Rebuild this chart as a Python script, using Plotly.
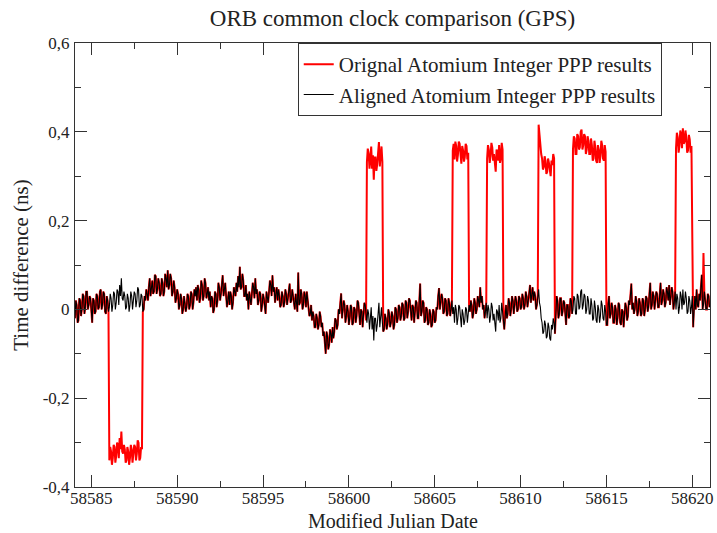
import numpy as np
import plotly.graph_objects as go

# aligned series, every 0.05 day (one row = one day)
t_start = 58584.05
t_step = 0.05
aligned_ns = [
    -0.02, 0.02, 0.01, -0.03, -0.025, 0.025, 0.02, -0.015, 0.0, 0.035, 0.03, -0.01, 0.005, 0.04, 0.04, 0.0, 0.01, 0.03, 0.025, -0.01,
    -0.03, 0.025, 0.02, -0.01, -0.005, 0.035, 0.03, 0.0, 0.005, 0.04, 0.045, 0.0, 0.01, 0.04, 0.035, -0.005, -0.01, 0.03, 0.02, -0.005,
    0.005, 0.035, 0.025, -0.005, 0.01, 0.04, 0.035, 0.0, 0.015, 0.045, 0.04, 0.01, 0.055, 0.03, 0.07, 0.025, 0.02, 0.04, 0.03, 0.0,
    0.005, 0.035, 0.025, -0.005, 0.01, 0.04, 0.03, 0.0, 0.015, 0.04, 0.035, 0.005, 0.02, 0.05, 0.045, 0.005, 0.01, 0.035, 0.03, -0.005,
    0.0, 0.03, 0.02, 0.045, 0.035, 0.02, 0.05, 0.07, 0.03, 0.06, 0.065, 0.035, 0.04, 0.078, 0.075, 0.035, 0.045, 0.07, 0.06, 0.03,
    0.035, 0.07, 0.06, 0.03, 0.04, 0.08, 0.07, 0.05, 0.088, 0.045, 0.055, 0.08, 0.07, 0.03, 0.04, 0.065, 0.05, 0.015, 0.025, 0.045,
    0.035, 0.0, 0.01, 0.035, 0.025, -0.01, 0.0, 0.03, 0.015, -0.005, 0.005, 0.035, 0.03, 0.0, 0.01, 0.04, 0.035, 0.0, 0.015, 0.045,
    0.03, 0.05, 0.02, 0.055, 0.045, 0.015, 0.025, 0.065, 0.055, 0.02, 0.03, 0.07, 0.06, 0.025, 0.035, 0.05, 0.02, 0.04, 0.005, 0.03,
    0.025, -0.008, 0.0, 0.04, 0.035, 0.005, 0.02, 0.06, 0.05, 0.02, 0.035, 0.065, 0.077, 0.03, 0.045, 0.06, 0.03, 0.005, 0.02, 0.04,
    0.01, 0.04, 0.03, 0.0, 0.015, 0.05, 0.04, 0.03, 0.06, 0.04, 0.075, 0.05, 0.096, 0.045, 0.05, 0.08, 0.065, 0.03, 0.03, 0.055,
    0.02, 0.035, 0.0, 0.04, 0.025, 0.01, 0.035, 0.06, 0.05, 0.025, 0.07, 0.035, 0.045, 0.01, 0.02, 0.04, 0.035, -0.005, 0.01, 0.035,
    0.025, 0.01, -0.01, 0.04, 0.03, 0.015, 0.04, 0.065, 0.055, 0.03, 0.077, 0.04, 0.05, 0.015, 0.035, 0.05, 0.02, 0.045, 0.03, 0.005,
    0.01, 0.04, 0.03, 0.005, 0.015, 0.045, 0.035, 0.01, 0.025, 0.05, 0.058, 0.015, 0.02, 0.045, 0.03, 0.005, 0.0, 0.035, 0.02, -0.005,
    0.083, 0.01, 0.015, 0.045, 0.035, 0.0, 0.01, 0.04, 0.03, 0.005, 0.04, 0.02, 0.015, -0.015, -0.01, 0.01, -0.025, -0.005, -0.015, -0.04,
    -0.04, -0.01, -0.02, -0.045, -0.035, -0.005, -0.015, -0.04, -0.03, -0.06, -0.05, -0.08, -0.1, -0.05, -0.06, -0.09, -0.08, -0.045, -0.055, -0.075,
    -0.04, -0.065, -0.05, -0.02, -0.025, -0.045, -0.035, 0.0, -0.01, 0.015, 0.036, -0.02, -0.005, 0.02, 0.01, -0.03, -0.015, 0.01, -0.005, -0.035,
    -0.02, 0.01, 0.005, -0.035, -0.03, 0.005, 0.0, -0.03, -0.015, 0.02, 0.015, -0.02, -0.035, 0.0, -0.005, -0.04, -0.02, 0.015, 0.01, -0.025,
    -0.03, 0.0, -0.01, -0.045, -0.025, 0.005, -0.045, -0.015, -0.07, -0.02, -0.02, -0.05, -0.035, 0.0, 0.015, -0.04, -0.02, 0.005, -0.03, -0.05,
    -0.045, -0.01, -0.02, -0.045, -0.035, 0.0, -0.01, -0.04, -0.03, -0.005, -0.015, -0.045, -0.035, 0.005, 0.0, -0.03, -0.02, 0.01, 0.005, -0.025,
    -0.015, 0.015, 0.01, -0.025, -0.02, 0.02, 0.015, -0.02, -0.005, 0.025, 0.02, -0.015, -0.025, 0.01, 0.005, -0.03, -0.01, 0.02, 0.015, -0.02,
    -0.02, 0.01, 0.058, -0.015, -0.005, 0.02, 0.015, -0.03, -0.025, 0.005, 0.0, -0.035, -0.03, 0.0, -0.01, -0.04, -0.035, 0.0, -0.005, -0.03,
    -0.025, 0.005, 0.0, 0.03, 0.048, 0.0, 0.015, 0.035, 0.025, -0.01, -0.005, 0.025, 0.02, -0.015, -0.01, 0.025, 0.015, -0.015, 0.0, 0.02,
    -0.01, 0.005, -0.03, 0.01, 0.0, -0.035, -0.02, 0.01, 0.005, -0.03, -0.04, 0.0, -0.01, -0.035, -0.025, 0.005, 0.0, -0.03, -0.015, 0.01,
    -0.005, 0.02, 0.01, -0.02, -0.01, 0.025, 0.015, -0.01, 0.0, 0.03, 0.02, 0.005, 0.05, 0.015, 0.03, 0.0, 0.01, -0.02, -0.005, 0.015,
    -0.02, 0.01, 0.0, -0.03, -0.015, 0.015, 0.005, -0.025, -0.01, -0.03, -0.05, 0.0, -0.005, -0.025, 0.01, -0.03, -0.02, 0.015, 0.0, -0.025,
    -0.045, -0.01, 0.01, -0.02, -0.01, 0.025, 0.015, -0.015, 0.0, 0.03, 0.02, -0.01, 0.005, 0.03, 0.02, -0.005, 0.0, 0.03, 0.025, 0.0,
    0.005, 0.035, 0.025, 0.0, 0.01, 0.04, 0.03, 0.005, 0.02, 0.045, 0.055, 0.015, 0.035, 0.05, 0.02, 0.04, 0.03, 0.0, 0.01, 0.03,
    0.045, 0.015, 0.005, -0.02, -0.03, -0.055, -0.05, -0.025, -0.035, -0.065, -0.06, -0.03, -0.04, -0.065, -0.07, -0.035, -0.045, -0.02, -0.03, -0.055,
    0.0, 0.03, 0.02, -0.02, -0.01, 0.025, 0.025, -0.015, -0.005, 0.02, 0.015, -0.02, -0.035, 0.01, 0.01, -0.02, -0.015, 0.025, 0.02, -0.01,
    0.0, 0.03, 0.025, -0.01, -0.01, 0.035, 0.03, 0.0, 0.005, 0.04, 0.045, 0.0, 0.01, 0.035, 0.03, -0.01, 0.0, 0.03, 0.02, -0.01,
    -0.01, 0.025, 0.01, -0.025, -0.02, 0.02, 0.005, -0.025, -0.03, 0.01, 0.0, -0.03, -0.015, 0.02, 0.01, -0.02, -0.025, 0.01, -0.005, -0.035,
    -0.035, 0.01, 0.03, -0.02, -0.01, 0.015, 0.005, -0.03, -0.03, 0.01, 0.0, -0.035, -0.02, 0.015, 0.01, -0.03, -0.035, 0.0, -0.005, -0.04,
    -0.02, 0.015, 0.005, -0.025, -0.015, 0.02, 0.01, 0.03, 0.058, 0.0, 0.015, -0.01, 0.0, 0.03, 0.02, -0.015, -0.005, 0.025, 0.015, -0.015,
    -0.01, 0.025, 0.02, -0.015, 0.0, 0.03, 0.025, -0.005, 0.005, 0.035, 0.06, 0.0, 0.01, 0.04, 0.03, 0.0, 0.015, 0.04, 0.035, 0.005,
    0.005, 0.03, 0.06, 0.01, 0.02, 0.045, 0.035, 0.005, 0.015, 0.05, 0.04, 0.02, 0.055, 0.01, 0.025, 0.05, 0.04, 0.0, 0.015, 0.04,
    0.0, 0.035, 0.025, -0.01, 0.005, 0.04, 0.03, 0.0, 0.045, 0.01, 0.015, 0.04, 0.025, -0.01, -0.005, 0.03, 0.02, -0.01, 0.005, 0.03,
    -0.04, 0.02, 0.03, 0.0, 0.045, 0.01, 0.005, 0.035, 0.02, 0.05, 0.078, 0.0, 0.01, 0.04, 0.025, 0.0, 0.0, 0.035, 0.03, 0.005,
]

# days where the original solution sits off by a constant step
jump_start = [58586, 58601, 58606, 58608, 58611, 58613, 58619]
jump_end = [58588, 58602, 58607, 58609, 58612, 58615, 58620]
jump_ns = [-0.345, 0.362, 0.368, 0.36, 0.37, 0.36, 0.363]

# isolated points where only the original differs
spike_mjd = [58611.05, 58620.65]
spike_ns = [0.416, 0.127]

x_ticks = [58585, 58590, 58595, 58600, 58605, 58610, 58615, 58620]
y_ticks = [-0.4, -0.2, 0, 0.2, 0.4, 0.6]
y_labels = ["-0,4", "-0,2", "0", "0,2", "0,4", "0,6"]

mjd = t_start + t_step * np.arange(len(aligned_ns))
aligned = np.array(aligned_ns)
original = aligned.copy()
for a, b, d in zip(jump_start, jump_end, jump_ns):
    original[(mjd > a + 0.001) & (mjd < b - 0.001)] += d
for m, v in zip(spike_mjd, spike_ns):
    original[np.argmin(np.abs(mjd - m))] = v

FONT = "Liberation Serif, Times New Roman, serif"
AX = "#333333"
TXT = "#222222"

fig = go.Figure()
fig.add_trace(go.Scatter(x=mjd, y=original, mode="lines",
                         line=dict(color="#ff0000", width=2),
                         name="Orignal Atomium Integer PPP results"))
fig.add_trace(go.Scatter(x=mjd, y=aligned, mode="lines",
                         line=dict(color="#000000", width=1.1),
                         name="Aligned Atomium Integer PPP results"))

axis_common = dict(showline=True, linecolor=AX, linewidth=1, mirror="ticks",
                   ticks="inside", ticklen=12, tickcolor=AX, tickwidth=1,
                   showgrid=False, zeroline=False, automargin=False,
                   tickfont=dict(family=FONT, size=17, color=TXT))

fig.update_xaxes(range=[58584.05, 58621.03], tickvals=x_ticks,
                 ticktext=[str(v) for v in x_ticks], ticklabelstandoff=-4,
                 minor=dict(ticks="inside", ticklen=6, dtick=2.5, tick0=58585,
                            tickcolor=AX, showgrid=False),
                 **axis_common)
fig.update_yaxes(range=[-0.4, 0.6], tickvals=y_ticks, ticktext=y_labels,
                 ticklabelstandoff=1,
                 minor=dict(ticks="inside", ticklen=6, dtick=0.1, tick0=0,
                            tickcolor=AX, showgrid=False),
                 title=dict(text="Time difference (ns)", standoff=8,
                            font=dict(family=FONT, size=21, color=TXT)),
                 **axis_common)

# x axis title as an annotation so it sits clear of the tick labels
fig.add_annotation(text="Modified Julian Date", xref="paper", yref="paper",
                   x=0.5, y=0, xanchor="center", yanchor="bottom", yshift=-46,
                   borderpad=0, showarrow=False,
                   font=dict(family=FONT, size=20, color=TXT))

fig.update_layout(
    width=717, height=533,
    margin=dict(l=75, r=7, t=43, b=46),
    paper_bgcolor="white", plot_bgcolor="white",
    title=dict(text="ORB common clock comparison (GPS)", x=0.5, xanchor="center",
               xref="paper", y=0.966, yanchor="middle",
               font=dict(family=FONT, size=23, color=TXT)),
    legend=dict(x=0.924, y=1, xanchor="right", yanchor="top",
                bgcolor="white", bordercolor=AX, borderwidth=1,
                font=dict(family=FONT, size=21, color=TXT),
                tracegroupgap=0),
    showlegend=True,
)

# drop the default 8px page margin so the figure fills the window exactly
fig.write_html("out.html", config={"displayModeBar": False},
               post_script="document.body.style.margin='0';")
